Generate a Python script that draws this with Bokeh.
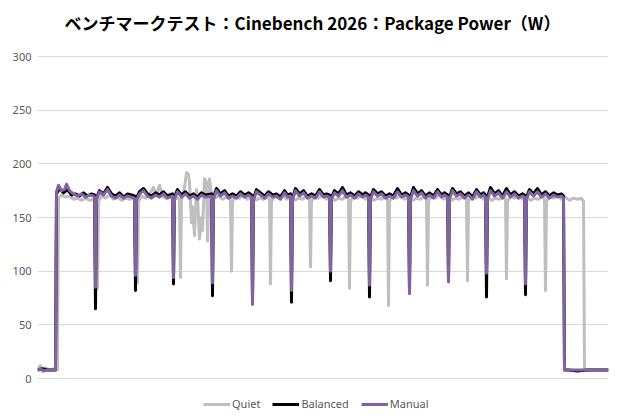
from bokeh.plotting import figure
from bokeh.models import Range1d, Legend, LegendItem, Label
from bokeh.embed import file_html
from bokeh.resources import INLINE

title_text = "ベンチマークテスト：Cinebench 2026：Package Power（W）"
series_names = ["Quiet", "Balanced", "Manual"]
y_ticks = [0, 50, 100, 150, 200, 250, 300]

quiet = [(0,9),(3,12),(5,7),(8,10),(12,8),(16,9),(20,8),(21,168),(24,171),(28,169),(32,170),(36,167),(40,168),(44,166),(48,168),(52,166),(56,167),(59,168),(60,84),(61,165),(64,170),(68,168),(72,171),(76,167),(80,169),(84,166),(88,168),(92,167),(96,168),(99,167),(100,89),(101,165),(104,170),(108,168),(112,172),(116,178),(119,171),(122,180),(125,170),(128,168),(132,172),(136,167),(140,168),(142,167),(143,94),(144,166),(147,178),(149,192),(151,190),(152,183),(154,145),(155,160),(157,133),(159,176),(160,170),(162,130),(164,150),(165,138),(167,186),(169,183),(170,128),(172,186),(174,172),(177,168),(181,170),(185,167),(189,169),(193,167),(194,100),(195,165),(198,170),(202,168),(206,171),(210,167),(214,169),(218,166),(222,168),(226,167),(230,169),(232,167),(233,88),(234,165),(237,170),(241,168),(245,172),(249,167),(253,169),(257,166),(261,168),(265,167),(269,170),(272,167),(273,104),(274,165),(277,170),(281,168),(285,171),(289,167),(293,169),(297,166),(301,168),(305,167),(309,170),(311,167),(312,84),(313,165),(316,170),(320,168),(324,171),(328,167),(332,169),(336,166),(340,168),(344,167),(348,170),(350,167),(351,68),(352,165),(355,170),(359,168),(363,171),(367,167),(371,169),(375,166),(379,168),(383,167),(387,170),(389,167),(390,87),(391,165),(394,170),(398,168),(402,171),(406,167),(410,169),(414,166),(418,168),(422,167),(426,170),(429,167),(430,91),(431,165),(434,170),(438,168),(442,171),(446,167),(450,169),(454,166),(458,168),(462,167),(466,170),(468,167),(469,93),(470,165),(473,170),(477,168),(481,171),(485,167),(489,169),(493,166),(497,168),(501,167),(505,170),(507,167),(508,82),(509,165),(512,170),(516,168),(520,171),(524,167),(528,169),(532,166),(536,168),(540,167),(544,168),(546,165),(547,8),(551,8),(560,8),(571,8)]

balanced = [(0,8),(5,9),(10,8),(15,8),(18,8),(19,172),(22,177),(26,173),(30,176),(34,171),(38,172),(42,170),(46,173),(50,170),(54,172),(57,171),(58,65),(59,168),(62,175),(66,172),(70,178),(74,172),(78,170),(82,173),(86,169),(90,172),(94,171),(97,170),(98,82),(99,168),(102,174),(106,177),(110,172),(114,170),(118,173),(122,171),(126,174),(130,170),(135,172),(136,88),(137,169),(140,176),(144,171),(148,174),(152,170),(156,172),(160,169),(164,173),(168,171),(174,172),(175,77),(176,169),(179,177),(183,172),(187,175),(191,170),(195,172),(199,170),(203,174),(207,171),(211,173),(214,171),(215,72),(216,168),(219,176),(223,173),(227,170),(231,174),(235,171),(239,172),(243,169),(247,175),(250,171),(253,172),(254,71),(255,168),(258,177),(262,172),(266,175),(270,170),(274,172),(278,170),(282,176),(286,171),(289,172),(292,171),(293,91),(294,169),(297,175),(301,172),(305,178),(309,171),(313,173),(317,170),(321,174),(325,171),(328,173),(331,171),(332,76),(333,169),(336,176),(340,172),(344,174),(348,170),(352,172),(356,170),(360,177),(364,171),(368,173),(371,171),(372,82),(373,169),(376,178),(380,172),(384,175),(388,170),(392,173),(396,170),(400,176),(404,171),(407,173),(410,171),(411,92),(412,169),(415,177),(419,172),(423,174),(427,170),(431,173),(435,169),(439,176),(443,171),(446,173),(448,171),(449,76),(450,169),(453,178),(457,172),(461,175),(465,170),(469,177),(473,171),(477,174),(481,170),(485,172),(487,171),(488,78),(489,169),(492,176),(496,172),(500,177),(504,171),(508,174),(512,170),(516,173),(520,171),(524,172),(526,170),(527,8),(531,8),(540,7),(550,8),(560,8),(571,8)]

manual = [(0,8),(3,9),(6,7),(10,8),(15,8),(18,8),(19,174),(21,180),(24,175),(27,176),(29,181),(32,175),(36,172),(40,170),(44,172),(48,169),(52,171),(56,170),(57,169),(58,85),(59,167),(62,174),(66,171),(70,176),(74,170),(78,168),(82,171),(86,168),(90,170),(94,169),(97,168),(98,96),(99,166),(102,172),(106,175),(110,170),(114,168),(118,171),(122,169),(126,172),(130,168),(135,170),(136,94),(137,167),(140,174),(144,169),(148,172),(152,168),(156,170),(160,167),(164,171),(168,169),(174,170),(175,89),(176,167),(179,175),(183,170),(187,173),(191,168),(195,170),(199,168),(203,172),(207,169),(211,171),(214,169),(215,69),(216,166),(219,174),(223,171),(227,168),(231,172),(235,169),(239,170),(243,167),(247,173),(250,169),(253,170),(254,82),(255,166),(258,175),(262,170),(266,173),(270,168),(274,170),(278,168),(282,174),(286,169),(289,170),(292,169),(293,100),(294,167),(297,173),(301,170),(305,175),(309,169),(313,171),(317,168),(321,172),(325,169),(328,171),(331,169),(332,87),(333,167),(336,174),(340,170),(344,172),(348,168),(352,170),(356,168),(360,174),(364,169),(368,171),(371,169),(372,79),(373,167),(376,175),(380,170),(384,173),(388,168),(392,171),(396,168),(400,174),(404,169),(407,171),(410,169),(411,90),(412,167),(415,175),(419,170),(423,172),(427,168),(431,171),(435,167),(439,174),(443,169),(446,171),(448,169),(449,98),(450,167),(453,175),(457,170),(461,173),(465,168),(469,174),(473,169),(477,172),(481,168),(485,170),(487,169),(488,88),(489,167),(492,174),(496,170),(500,174),(504,169),(508,172),(512,168),(516,171),(520,169),(524,170),(526,168),(527,8),(531,8),(540,8),(550,8),(560,8),(571,8)]

colors = ["#BFBFBF", "#000000", "#8064A2"]

# frame covers the whole canvas height; 0..300 W maps to pixel rows 378..56
px_per_w = 322 / 300
y_lo = -42 / px_per_w
y_hi = 300 + 56 / px_per_w

p = figure(width=620, height=420, output_backend="svg", toolbar_location=None,
           x_range=Range1d(0, 571), y_range=Range1d(y_lo, y_hi), x_axis_location=None,
           min_border_left=37, min_border_right=12, min_border_top=0, min_border_bottom=0)
p.outline_line_color = None
p.background_fill_color = "white"
p.border_fill_color = "white"

p.yaxis.ticker = y_ticks
p.yaxis.axis_line_color = None
p.yaxis.major_tick_line_color = None
p.yaxis.major_tick_out = 0
p.yaxis.major_tick_in = 0
p.yaxis.minor_tick_line_color = None
p.yaxis.major_label_text_font = "Noto Sans"
p.yaxis.major_label_text_font_size = "11px"
p.yaxis.major_label_text_color = "#595959"
p.yaxis.major_label_standoff = 6
p.xgrid.grid_line_color = None
p.ygrid.ticker = y_ticks
p.ygrid.grid_line_color = "#D9D9D9"

renderers = []
for name, data, c in zip(series_names, [quiet, balanced, manual], colors):
    xs = [d[0] for d in data]
    ys = [d[1] for d in data]
    r = p.line(xs, ys, line_color=c, line_width=3, line_join="round")
    renderers.append(r)

title = Label(x=275, y=398, x_units="screen", y_units="screen", text=title_text,
              text_align="center", text_baseline="middle", text_font="Noto Sans CJK JP",
              text_font_size="17px", text_font_style="bold", text_color="#000000")
p.add_layout(title)

legend = Legend(items=[LegendItem(label=n, renderers=[r]) for n, r in zip(series_names, renderers)],
                orientation="horizontal", location=(166, 9))
legend.label_text_font = "Noto Sans"
legend.label_text_font_size = "11px"
legend.label_text_color = "#595959"
legend.glyph_width = 27
legend.glyph_height = 14
legend.label_height = 14
legend.label_standoff = 2
legend.spacing = 12
legend.padding = 0
legend.margin = 0
legend.border_line_color = None
legend.background_fill_alpha = 0
p.add_layout(legend)

open("out.html", "w").write(file_html(p, INLINE))
